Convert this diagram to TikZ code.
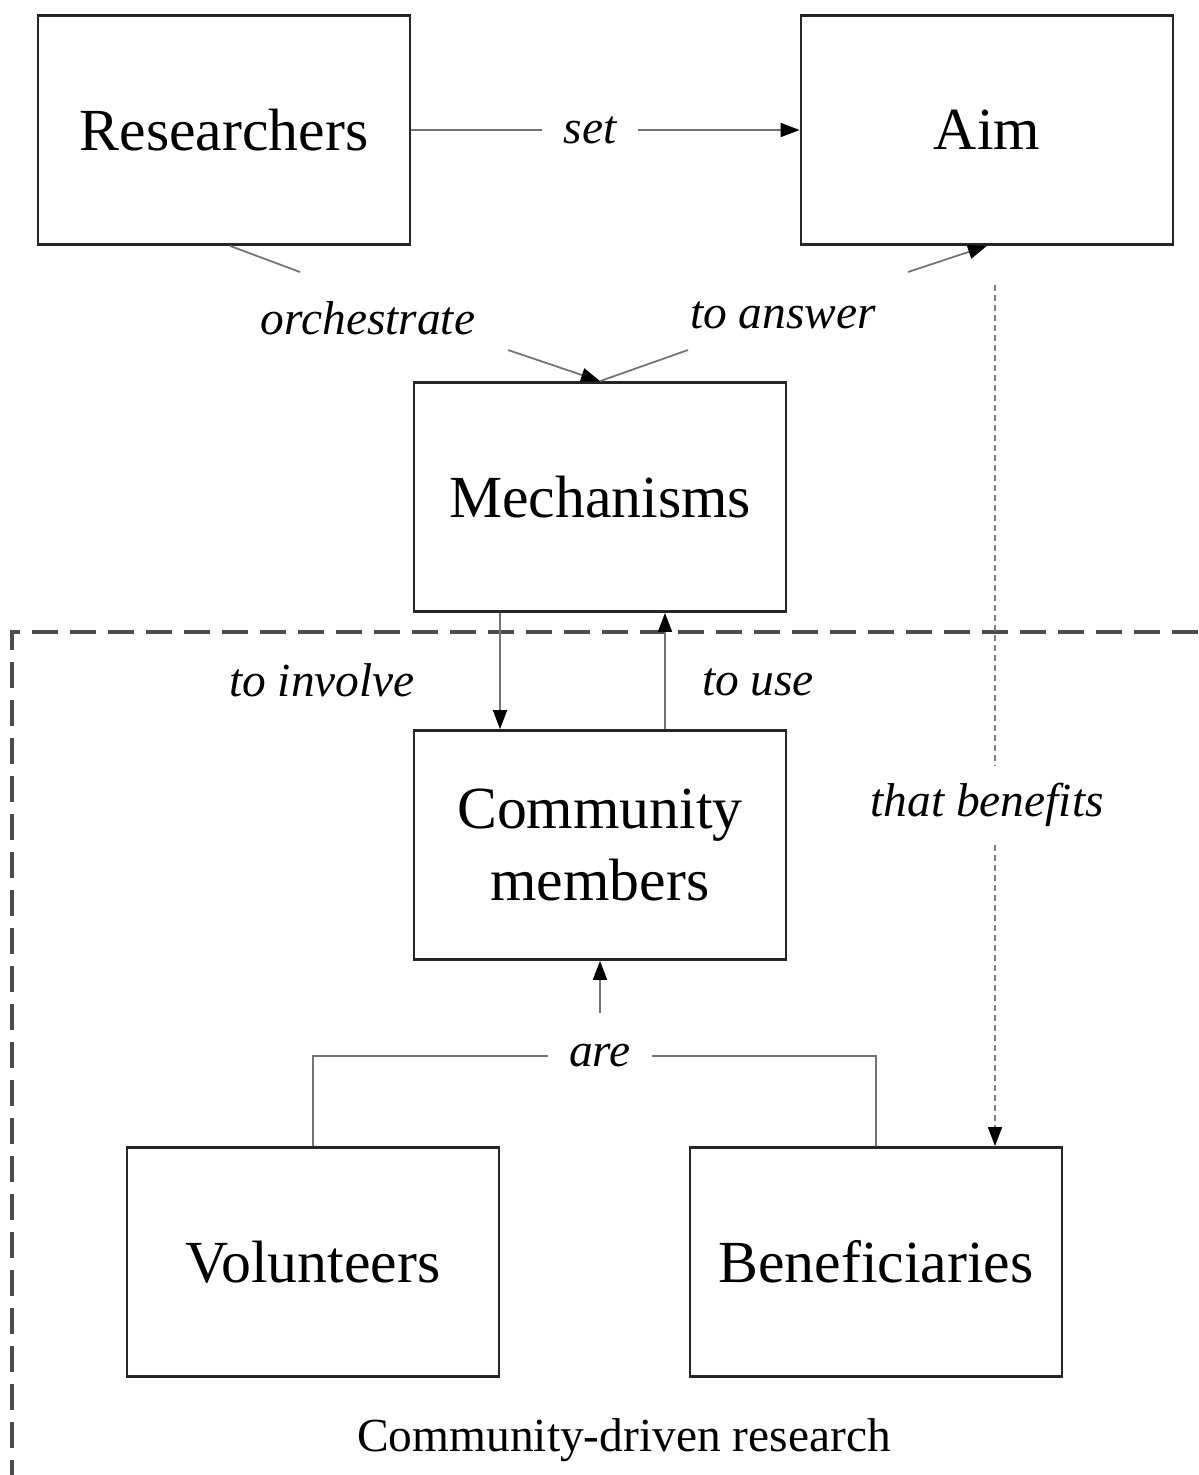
\documentclass[tikz,border=0pt]{standalone}
\usepackage{fontspec}
\setmainfont{Liberation Serif}
\usetikzlibrary{arrows.meta}

\begin{document}
\begin{tikzpicture}[x=0.02cm, y=-0.02cm,
            box/.style={draw=black!85, line width=1.6pt, minimum width=7.44cm, minimum height=4.58cm,
                align=center, font=\fontsize{34}{41}\selectfont},
            lbl/.style={inner xsep=12pt, inner ysep=10pt, font=\fontsize{27}{32}\selectfont\itshape},
            conn/.style={draw=black!55, line width=1pt},
            tip/.style={-{Triangle[length=0.38cm, width=0.28cm, color=black]}},
            dotconn/.style={draw=black!50, line width=0.8pt, dash pattern=on 0.12cm off 0.08cm},
            region/.style={draw=black!70, line width=2.2pt, dash pattern=on 0.52cm off 0.24cm},
        ]
        \useasboundingbox (0,0) rectangle (1198,1475);

        \node[box] (res) at (224,130) {Researchers};
        \node[box] (aim) at (987,130) {Aim};
        \node[box] (mech) at (600,497) {Mechanisms};
        \node[box] (comm) at (600,845) {Community\\members};
        \node[box] (vol) at (313,1262) {Volunteers};
        \node[box] (ben) at (876,1262) {Beneficiaries};

        % labels
        \node[lbl] (set) at (590,130) {set};
        \node[lbl] (orch) at (368,318) {orchestrate};
        \node[lbl] (answer) at (783,315) {to answer};
        \node[lbl] (involve) at (322,680) {to involve};
        \node[lbl] (use) at (758,682) {to use};
        \node[lbl] (benef) at (987,805) {that benefits};
        \node[lbl, inner ysep=18pt] (are) at (600,1056) {are};
        \node[font=\fontsize{27}{32}\selectfont] (cdr) at (624,1440) {Community-driven research};

        \coordinate (orchA) at (300,272);
        \coordinate (orchB) at (508,350);
        \coordinate (ansA) at (688,350);
        \coordinate (ansB) at (908,272);
        \coordinate (benA) at (995,285);

        % community-driven research region
        \draw[region] (1198,632) -- (12,632) -- (12,1475);

        \draw[conn] (res) -- (set);
        \draw[conn, tip] (set) -- (aim);

        \draw[conn] ([xshift=0.12cm]res.south) -- (orchA);
        \draw[conn, tip] (orchB) -- (mech.north);
        \draw[conn] (mech.north) -- (ansA);
        \draw[conn, tip] (ansB) -- (aim.south);

        \draw[conn, tip] ([xshift=-2cm]mech.south) -- ([xshift=-2cm]comm.north);
        \draw[conn, tip] ([xshift=1.3cm]comm.north) -- ([xshift=1.3cm]mech.south);

        \draw[dotconn] (benA) -- (benA |- benef.north);
        \draw[dotconn, tip] (benA |- benef.south) -- (benA |- ben.north);

        \draw[conn] (vol.north) |- (are);
        \draw[conn] (ben.north) |- (are);
        \draw[conn, tip] (are) -- (comm);

\end{tikzpicture}
\end{document}
